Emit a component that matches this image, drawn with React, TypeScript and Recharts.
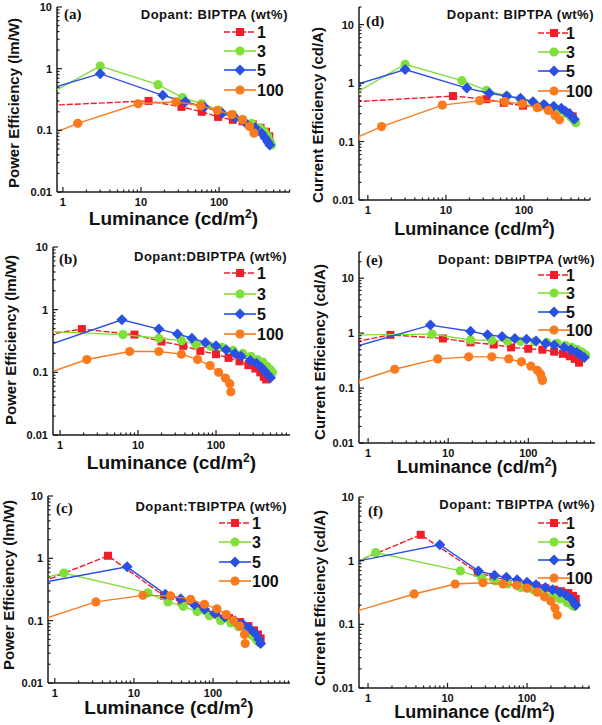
import { ScatterChart, Scatter, XAxis, YAxis } from 'recharts';

type P = [number, number];

// (a) power efficiency, BIPTPA
const aPE1: P[] = [[0.7, 0.255], [12.5, 0.3], [33, 0.24], [60, 0.2], [97, 0.165], [150, 0.148], [200, 0.14], [270, 0.125], [340, 0.11], [400, 0.095], [440, 0.08]];
const aPE3: P[] = [[0.7, 0.4], [3, 1.1], [16.5, 0.55], [34, 0.34], [60, 0.27], [100, 0.21], [150, 0.18], [200, 0.15], [260, 0.13], [330, 0.11], [380, 0.095], [420, 0.08], [450, 0.065], [470, 0.058]];
const aPE5: P[] = [[0.7, 0.48], [3, 0.83], [19, 0.37], [37, 0.29], [65, 0.24], [110, 0.19], [160, 0.16], [220, 0.13], [290, 0.11], [350, 0.09], [390, 0.075], [420, 0.065], [445, 0.058]];
const aPE100: P[] = [[0.7, 0.086], [1.55, 0.13], [9.2, 0.27], [28, 0.29], [58, 0.25], [95, 0.21], [145, 0.18], [200, 0.148], [245, 0.115], [280, 0.09]];

// (d) current efficiency, BIPTPA
const dCE1: P[] = [[0.7, 0.48], [12.3, 0.6], [33, 0.53], [55, 0.46], [97, 0.41], [150, 0.39], [220, 0.37], [290, 0.34], [360, 0.31], [420, 0.27]];
const dCE3: P[] = [[0.7, 0.68], [3, 2.1], [16, 1.1], [33, 0.75], [60, 0.6], [90, 0.53], [130, 0.47], [180, 0.42], [240, 0.38], [300, 0.34], [350, 0.3], [400, 0.26], [440, 0.23], [460, 0.21]];
const dCE5: P[] = [[0.7, 0.94], [3, 1.7], [18.5, 0.82], [36, 0.67], [60, 0.6], [90, 0.55], [130, 0.48], [180, 0.43], [240, 0.4], [300, 0.37], [340, 0.33], [380, 0.3], [410, 0.27], [440, 0.24]];
const dCE100: P[] = [[0.7, 0.115], [1.5, 0.18], [9, 0.42], [27, 0.5], [57, 0.48], [95, 0.44], [148, 0.38], [205, 0.34], [250, 0.28], [285, 0.235]];

// (b) power efficiency, DBIPTPA
const bPE1: P[] = [[0.7, 0.4], [1.9, 0.49], [9, 0.4], [20, 0.31], [38, 0.265], [63, 0.22], [100, 0.195], [145, 0.17], [200, 0.15], [260, 0.13], [320, 0.115], [370, 0.1], [410, 0.085], [440, 0.077]];
const bPE3: P[] = [[0.7, 0.45], [6.4, 0.4], [18.5, 0.35], [36, 0.32], [55, 0.28], [85, 0.26], [120, 0.25], [165, 0.225], [220, 0.2], [280, 0.18], [340, 0.16], [400, 0.145], [450, 0.125], [500, 0.11], [530, 0.1]];
const bPE5: P[] = [[0.7, 0.27], [6.2, 0.69], [18.5, 0.49], [32, 0.41], [49, 0.35], [73, 0.3], [100, 0.265], [135, 0.23], [175, 0.2], [210, 0.18], [275, 0.155], [330, 0.14], [380, 0.12], [420, 0.105], [460, 0.092], [500, 0.082]];
const bPE100: P[] = [[0.7, 0.098], [2.2, 0.16], [7.8, 0.215], [18.5, 0.215], [36, 0.195], [58, 0.16], [84, 0.128], [108, 0.1], [132, 0.081], [150, 0.066], [155, 0.049]];

// (e) current efficiency, DBIPTPA
const eCE1: P[] = [[0.7, 0.7], [1.9, 0.93], [8.6, 0.8], [19, 0.68], [37, 0.62], [61, 0.55], [100, 0.52], [150, 0.5], [210, 0.46], [270, 0.42], [330, 0.38], [380, 0.34], [430, 0.29]];
const eCE3: P[] = [[0.7, 0.93], [6.3, 0.96], [19, 0.75], [35, 0.74], [55, 0.72], [80, 0.71], [120, 0.7], [170, 0.68], [230, 0.65], [290, 0.6], [350, 0.55], [410, 0.5], [470, 0.45], [520, 0.4]];
const eCE5: P[] = [[0.7, 0.57], [6, 1.4], [19, 1.08], [31, 0.93], [47, 0.87], [68, 0.8], [95, 0.77], [125, 0.72], [165, 0.65], [210, 0.61], [280, 0.55], [340, 0.5], [400, 0.45], [450, 0.4], [500, 0.36]];
const eCE100: P[] = [[0.7, 0.13], [2.15, 0.22], [7.4, 0.34], [18, 0.37], [35, 0.37], [57, 0.34], [82, 0.3], [108, 0.25], [130, 0.21], [142, 0.18], [148, 0.15], [150, 0.138]];

// (c) power efficiency, TBIPTPA
const cPE1: P[] = [[0.7, 0.42], [4.7, 1.1], [24, 0.25], [40, 0.2], [70, 0.16], [110, 0.13], [160, 0.11], [220, 0.095], [280, 0.082], [330, 0.07], [370, 0.06], [400, 0.052]];
const cPE3: P[] = [[0.7, 0.48], [1.3, 0.58], [15, 0.28], [27, 0.2], [42, 0.17], [63, 0.14], [90, 0.12], [125, 0.1], [168, 0.092], [210, 0.08], [260, 0.068], [310, 0.058], [350, 0.05], [380, 0.045]];
const cPE5: P[] = [[0.7, 0.41], [8.2, 0.73], [25, 0.265], [39, 0.225], [58, 0.18], [78, 0.152], [105, 0.13], [140, 0.115], [190, 0.1], [240, 0.087], [290, 0.075], [340, 0.062], [380, 0.05], [400, 0.043]];
const cPE100: P[] = [[0.7, 0.105], [3.3, 0.2], [13, 0.255], [29, 0.25], [52, 0.22], [78, 0.183], [112, 0.155], [147, 0.125], [182, 0.1], [218, 0.082], [250, 0.06], [255, 0.043]];

// (f) current efficiency, TBIPTPA
const fCE1: P[] = [[0.7, 0.95], [4.6, 2.55], [24, 0.65], [38, 0.55], [55, 0.5], [75, 0.46], [100, 0.43], [130, 0.4], [170, 0.37], [220, 0.35], [270, 0.33], [330, 0.31], [380, 0.28], [410, 0.25]];
const fCE3: P[] = [[0.7, 0.92], [1.25, 1.34], [14.5, 0.69], [27, 0.53], [40, 0.48], [57, 0.43], [84, 0.38], [120, 0.35], [160, 0.32], [210, 0.28], [260, 0.25], [320, 0.22], [370, 0.2], [390, 0.19]];
const fCE5: P[] = [[0.7, 0.97], [8, 1.78], [24.5, 0.69], [39, 0.59], [55, 0.55], [75, 0.5], [100, 0.46], [130, 0.42], [170, 0.38], [210, 0.35], [260, 0.32], [310, 0.29], [360, 0.25], [400, 0.21], [410, 0.2]];
const fCE100: P[] = [[0.7, 0.16], [3.8, 0.3], [12.5, 0.43], [28, 0.45], [50, 0.43], [74, 0.41], [100, 0.37], [134, 0.32], [166, 0.27], [200, 0.23], [225, 0.18], [240, 0.14]];

const wtNames = ['1', '3', '5', '100'];
const xMajor = [1, 10, 100];
const yMajor = [0.01, 0.1, 1, 10];

const SANS = '"Liberation Sans", Arial, sans-serif';
const AXIS = '#1c1c1c';
const STYLES = [
  { color: '#f01e28', shape: 'square', dash: '6 2' },
  { color: '#80e03a', shape: 'circle', dash: undefined },
  { color: '#2a4fe4', shape: 'diamond', dash: undefined },
  { color: '#fb7a1e', shape: 'circle', dash: undefined },
];
const TM = 5;

function Marker({ kind, cx, cy, color }: { kind: string; cx: number; cy: number; color: string }) {
  if (kind === 'square') return <rect x={cx - 4} y={cy - 4} width={8} height={8} fill={color} />;
  if (kind === 'diamond')
    return <polygon points={`${cx},${cy - 5.5} ${cx + 5.5},${cy} ${cx},${cy + 5.5} ${cx - 5.5},${cy}`} fill={color} />;
  return <circle cx={cx} cy={cy} r={4.6} fill={color} />;
}

function logTicks(majors: number[], lo: number, hi: number) {
  const out: number[] = [];
  majors.concat([majors[majors.length - 1] * 10]).forEach((d) => {
    for (let m = 1; m <= 9; m++) {
      const v = +(d * m).toPrecision(3);
      if (v >= lo && v <= hi) out.push(v);
    }
  });
  return out;
}

const isMajor = (v: number) => [0.01, 0.1, 1, 10, 100, 1000].some((m) => Math.abs(m - v) / m < 1e-6);

function XTick(props: any) {
  const { x, y, payload } = props;
  const major = isMajor(payload.value);
  const y0 = y - TM;
  return (
    <g>
      <line x1={x} x2={x} y1={y0} y2={y0 - (major ? 5 : 2.5)} stroke={AXIS} strokeWidth={1.2} />
      {major && (
        <text x={x} y={y0 + 13.5} textAnchor="middle" fontFamily={SANS} fontWeight="bold" fontSize={11} fill="#111">
          {payload.value}
        </text>
      )}
    </g>
  );
}

function YTick(props: any) {
  const { x, y, payload } = props;
  const major = isMajor(payload.value);
  const x0 = x + TM;
  return (
    <g>
      <line x1={x0} x2={x0 + (major ? 5 : 2.5)} y1={y} y2={y} stroke={AXIS} strokeWidth={1.2} />
      {major && (
        <text x={x} y={y + 4} textAnchor="end" fontFamily={SANS} fontWeight="bold" fontSize={11} fill="#111">
          {payload.value}
        </text>
      )}
    </g>
  );
}

const PE = 'Power Efficiency (lm/W)';
const CE = 'Current Efficiency (cd/A)';

const panels = [
  { tag: '(a)', left: 0, top: 0, h: 240, l: 57, r: 290, t: 7, b: 192, xd: [0.84, 810], yd: [0.01, 10], yTitle: PE, dopant: 'Dopant: BIPTPA (wt%)', series: [aPE1, aPE3, aPE5, aPE100], xlc: 219, xfs: 19, ylx: 13, yly: 103, tagPos: [64, 19], titlePos: [288, 19], mx: 240, lx: 257, rows: [32, 51, 70, 90] },
  { tag: '(d)', left: 302, top: 0, h: 240, l: 57, r: 288, t: 7, b: 200, xd: [0.77, 700], yd: [0.01, 20], yTitle: CE, dopant: 'Dopant: BIPTPA (wt%)', series: [dCE1, dCE3, dCE5, dCE100], xlc: 229, xfs: 18, ylx: 15, yly: 115, tagPos: [64, 26], titlePos: [292, 19], mx: 252, lx: 264, rows: [33, 52, 71, 91] },
  { tag: '(b)', left: 0, top: 240, h: 240, l: 53, r: 290, t: 7, b: 195, xd: [0.81, 890], yd: [0.01, 10], yTitle: PE, dopant: 'Dopant:DBIPTPA (wt%)', series: [bPE1, bPE3, bPE5, bPE100], xlc: 223, xfs: 19, ylx: 10, yly: 100, tagPos: [59, 24], titlePos: [287, 21], mx: 240, lx: 257, rows: [33, 54, 74, 94] },
  { tag: '(e)', left: 302, top: 240, h: 240, l: 57, r: 293, t: 12, b: 203, xd: [0.77, 680], yd: [0.01, 30], yTitle: CE, dopant: 'Dopant: DBIPTPA (wt%)', series: [eCE1, eCE3, eCE5, eCE100], xlc: 227, xfs: 18, ylx: 17, yly: 112, tagPos: [64, 25], titlePos: [293, 24], mx: 252, lx: 264, rows: [35, 53, 72, 90] },
  { tag: '(c)', left: 0, top: 480, h: 245, l: 48, r: 290, t: 16, b: 203, xd: [0.82, 940], yd: [0.01, 10], yTitle: PE, dopant: 'Dopant:TBIPTPA (wt%)', series: [cPE1, cPE3, cPE5, cPE100], xlc: 228, xfs: 19, ylx: 8, yly: 105, tagPos: [56, 33], titlePos: [287, 31], mx: 235, lx: 252, rows: [43, 62, 82, 101] },
  { tag: '(f)', left: 302, top: 480, h: 245, l: 57, r: 288, t: 17, b: 208, xd: [0.77, 620], yd: [0.01, 10], yTitle: CE, dopant: 'Dopant: TBIPTPA (wt%)', series: [fCE1, fCE3, fCE5, fCE100], xlc: 232, xfs: 18, ylx: 17, yly: 118, tagPos: [66, 36], titlePos: [293, 29], mx: 252, lx: 264, rows: [43, 62, 80, 98] },
];

function Panel({ p }: { p: (typeof panels)[number] }) {
  const xTicks = logTicks(xMajor, p.xd[0], p.xd[1]);
  const yTicks = logTicks(yMajor, p.yd[0], p.yd[1]);
  return (
    <div style={{ position: 'absolute', left: p.left, top: p.top, width: 300, height: p.h }}>
      <ScatterChart width={300} height={p.h} margin={{ top: p.t, right: 300 - p.r, left: 0, bottom: 0 }}>
        <XAxis
          type="number"
          dataKey="x"
          scale="log"
          domain={p.xd}
          allowDataOverflow
          ticks={xTicks}
          interval={0}
          tick={XTick}
          tickLine={false}
          tickSize={0}
          tickMargin={TM}
          height={p.h - p.b}
          axisLine={{ stroke: AXIS, strokeWidth: 1.5 }}
          label={{
            content: (lp: any) => {
              const vb = lp.viewBox;
              return (
                <text x={vb.x + vb.width / 2} y={p.xlc + 6} textAnchor="middle" fontFamily={SANS} fontWeight="bold" fontSize={p.xfs} fill="#111">
                  Luminance (cd/m<tspan dy={-7} fontSize={12}>2</tspan>
                  <tspan dy={7}>)</tspan>
                </text>
              );
            },
          }}
        />
        <YAxis
          type="number"
          dataKey="y"
          scale="log"
          domain={p.yd}
          allowDataOverflow
          ticks={yTicks}
          interval={0}
          tick={YTick}
          tickLine={false}
          tickSize={0}
          tickMargin={TM}
          width={p.l}
          axisLine={{ stroke: AXIS, strokeWidth: 1.5 }}
          label={{
            content: () => (
              <text
                x={p.ylx}
                y={p.yly}
                transform={`rotate(-90 ${p.ylx} ${p.yly})`}
                textAnchor="middle"
                dominantBaseline="central"
                fontFamily={SANS}
                fontWeight="bold"
                fontSize={15}
                fill="#111"
              >
                {p.yTitle}
              </text>
            ),
          }}
        />
        {p.series.map((pts, i) => {
          const s = STYLES[i];
          return (
            <Scatter
              key={wtNames[i]}
              name={wtNames[i]}
              data={pts.map(([x, y]) => ({ x, y }))}
              fill={s.color}
              line={{ stroke: s.color, strokeWidth: 1.4, strokeDasharray: s.dash }}
              lineType="joint"
              shape={(sp: any) => <Marker kind={s.shape} cx={sp.cx} cy={sp.cy} color={s.color} />}
              isAnimationActive={false}
            />
          );
        })}
      </ScatterChart>
      <svg width={300} height={p.h} style={{ position: 'absolute', left: 0, top: 0, pointerEvents: 'none' }}>
        <text x={p.tagPos[0]} y={p.tagPos[1]} fontFamily='"Liberation Serif", serif' fontWeight="bold" fontSize={15} fill="#111">
          {p.tag}
        </text>
        <text x={p.titlePos[0]} y={p.titlePos[1]} textAnchor="end" fontFamily={SANS} fontWeight="bold" fontSize={13} letterSpacing={0.5} fill="#111">
          {p.dopant}
        </text>
        {wtNames.map((n, i) => {
          const s = STYLES[i];
          const ry = p.rows[i];
          return (
            <g key={n}>
              <line x1={p.mx - 16} x2={p.mx + 16} y1={ry} y2={ry} stroke={s.color} strokeWidth={1.6} strokeDasharray={s.dash} />
              <Marker kind={s.shape} cx={p.mx} cy={ry} color={s.color} />
              <text x={p.lx} y={ry + 5.5} fontFamily={SANS} fontWeight="bold" fontSize={16} fill="#111">
                {n}
              </text>
            </g>
          );
        })}
      </svg>
    </div>
  );
}

export default function App() {
  return (
    <div style={{ position: 'absolute', left: 0, top: 0, width: 602, height: 725, background: '#fff' }}>
      {panels.map((p) => (
        <Panel key={p.tag} p={p} />
      ))}
    </div>
  );
}
